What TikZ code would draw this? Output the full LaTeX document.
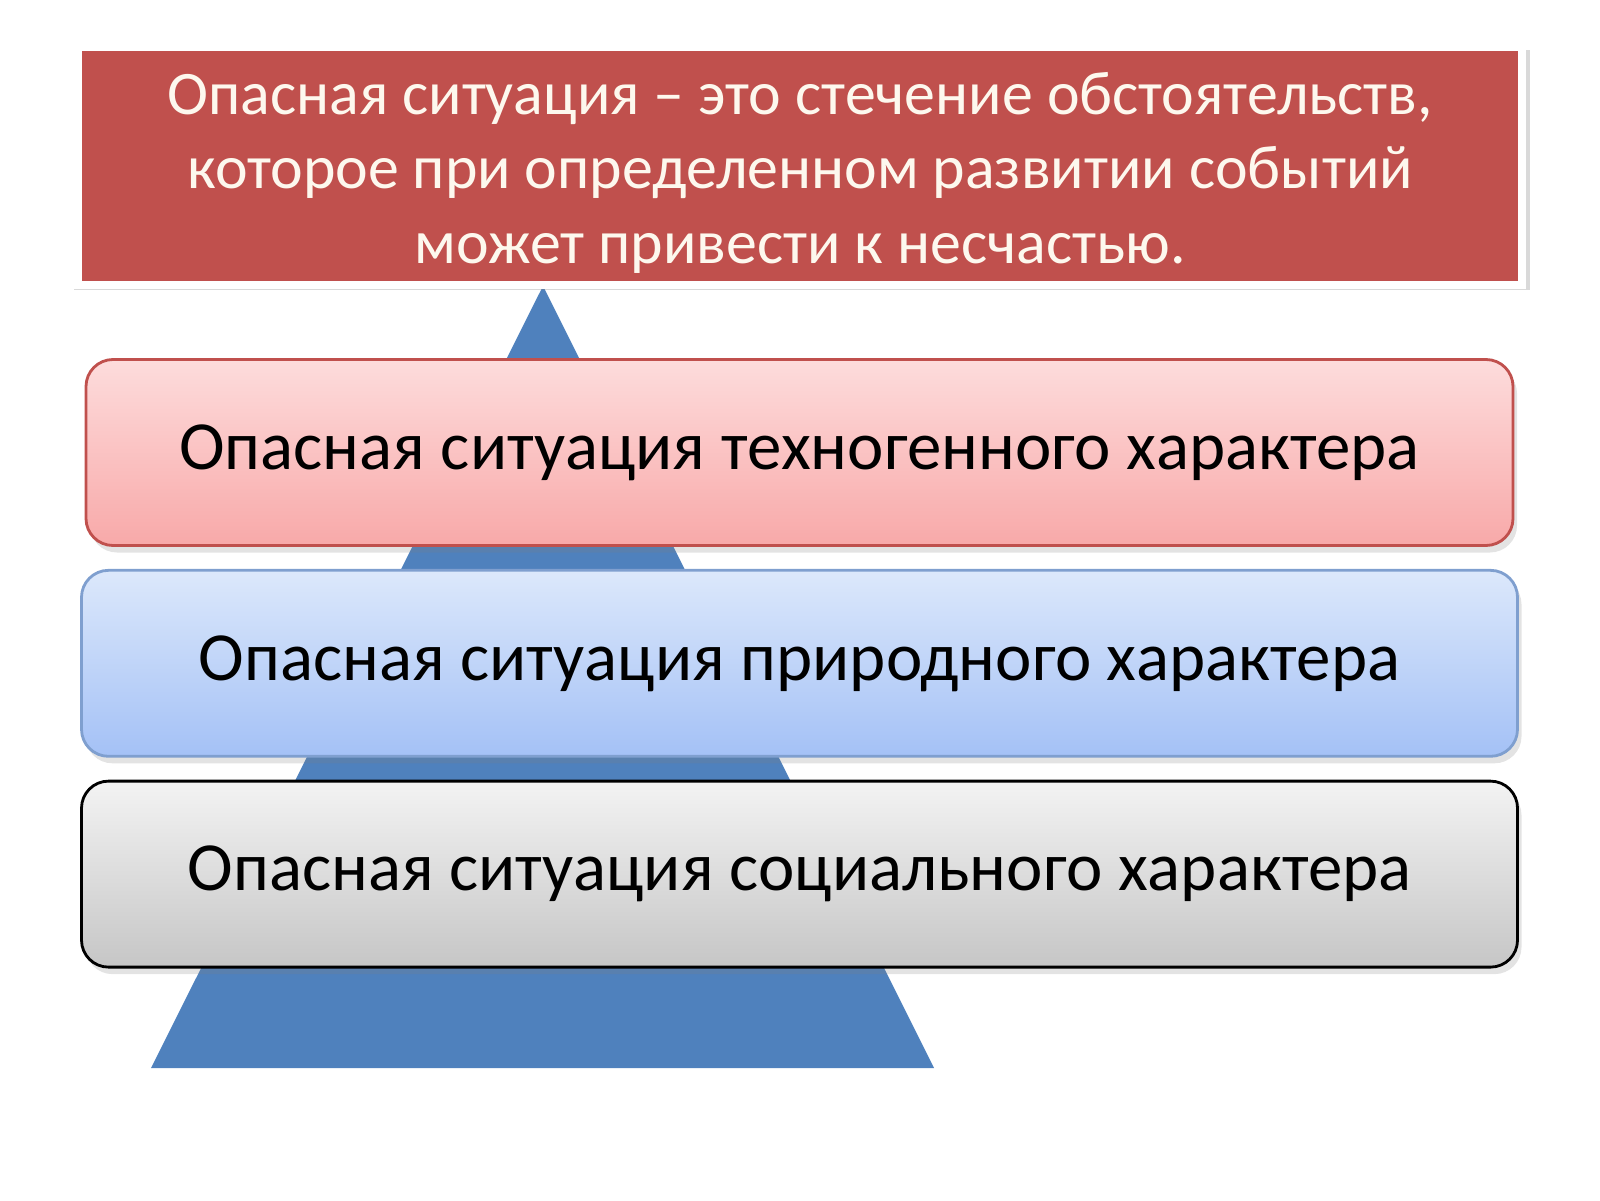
\documentclass[tikz,border=0pt]{standalone}
\usepackage{fontspec}
\setmainfont{Carlito}
\usetikzlibrary{positioning,shadows,calc}
\definecolor{defred}{HTML}{C0504D}
\definecolor{deftext}{HTML}{FDF8EE}
\definecolor{pyrblue}{HTML}{4F81BD}
\definecolor{pinktop}{HTML}{FDDCDC}
\definecolor{pinkbot}{HTML}{F8A9A9}
\definecolor{pinkline}{HTML}{C0504D}
\definecolor{bluetop}{HTML}{DCE8FB}
\definecolor{bluebot}{HTML}{A4C1F6}
\definecolor{blueline}{HTML}{7F9FCF}
\definecolor{graytop}{HTML}{F3F3F3}
\definecolor{graybot}{HTML}{C6C6C6}

\begin{document}
\begin{tikzpicture}[
	level/.style={rounded corners=0.27cm, minimum width=14.36cm, minimum height=1.86cm,
		font=\fontsize{19.6}{24}\selectfont, line width=0.8pt, inner sep=0pt,
		drop shadow={opacity=0.22, shadow xshift=0.04cm, shadow yshift=-0.07cm}},
	defbox/.style={fill=defred, draw=white, line width=2.5pt, minimum width=14.44cm,
		minimum height=2.38cm, text width=14cm, align=flush center, text=deftext,
		font=\fontsize{17.6}{21.2}\selectfont,
		drop shadow={opacity=0.3, shadow scale=1.008, shadow xshift=0.02cm, shadow yshift=-0.04cm}},
	]
	\useasboundingbox (0,0) rectangle (16,12);

	% pyramid behind the levels
	\coordinate (apex) at (5.43,9.14);
	\coordinate (baseL) at (1.51,1.32);
	\coordinate (baseR) at (9.34,1.32);
	\fill[pyrblue] (apex) -- (baseR) -- (baseL) -- cycle;

	\node[defbox] (defn) at (8.0,10.34) {\rule{0pt}{0.9em}Опасная ситуация – это стечение обстоятельств,\\
		которое при определенном развитии событий\\
		может привести к несчастью.};

	\node[level, minimum width=14.27cm, draw=pinkline, top color=pinktop, bottom color=pinkbot]
		(techno) at (7.995,7.475) {Опасная ситуация техногенного характера};
	\node[level, draw=blueline, top color=bluetop, bottom color=bluebot, below=0.22cm of techno]
		(nature) {Опасная ситуация природного характера};
	\node[level, draw=black, top color=graytop, bottom color=graybot, below=0.22cm of nature]
		(social) {Опасная ситуация социального характера};
\end{tikzpicture}
\end{document}
